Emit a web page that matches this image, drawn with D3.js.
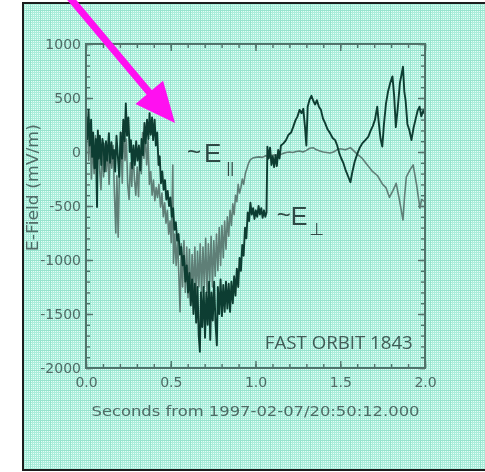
<!DOCTYPE html>
<html lang="en">
<head>
<meta charset="UTF-8">
<title>FAST orbit 1843 E-field</title>
<script src="https://d3js.org/d3.v7.min.js"></script>
<style>
    body { margin: 0; padding: 0; background: #fff; overflow: hidden; }
    svg { display: block; }
    .tick text { font-family: "DejaVu Sans", sans-serif; font-size: 14px; fill: #4f6c66; }
    .tick line { stroke: #4f736a; stroke-width: 1.4px; }
    .domain { display: none; }
</style>
</head>
<body>
<script>
    // axis ticks
    const xMajor = [0, 0.5, 1.0, 1.5, 2.0];
    const yMajor = [-2000, -1500, -1000, -500, 0, 500, 1000];

    // ~E-perp (dark trace): [seconds, mV/m]
    const ePerp = [
        [0.000, 270], [0.008, 120], [0.015, 390], [0.022, 60], [0.030, 300], [0.036, -45], [0.042, 180],
        [0.050, -150], [0.058, 120], [0.065, -510], [0.070, 200], [0.076, -60], [0.082, 150], [0.090, -120],
        [0.097, 120], [0.104, 50], [0.110, -180], [0.118, 100], [0.125, -80], [0.135, 175], [0.142, -100],
        [0.150, 90], [0.158, -60], [0.165, 20], [0.172, -180], [0.180, 150], [0.188, -40], [0.196, -230],
        [0.204, 180], [0.212, -60], [0.220, 300], [0.228, 100], [0.235, 450], [0.242, 150], [0.250, 320],
        [0.258, 0], [0.265, 110], [0.272, -150], [0.280, 60], [0.288, -120], [0.296, 100], [0.304, -80],
        [0.312, 60], [0.320, -170], [0.328, 120], [0.336, -30], [0.345, 270], [0.352, 80], [0.360, 300],
        [0.368, 120], [0.375, 360], [0.382, 160], [0.390, 320], [0.396, 110], [0.405, 300], [0.412, 60],
        [0.420, 180], [0.428, -120], [0.435, -40], [0.442, -290], [0.450, -180], [0.458, -350], [0.466, -260],
        [0.474, -440], [0.482, -360], [0.490, -500], [0.498, -420], [0.506, -600], [0.514, -520], [0.522, -720],
        [0.530, -650], [0.538, -820], [0.546, -760], [0.554, -950], [0.562, -880], [0.570, -1050], [0.578, -960],
        [0.586, -1200], [0.594, -1050], [0.602, -1300], [0.610, -1120], [0.618, -1420], [0.626, -1180],
        [0.634, -1500], [0.642, -1220], [0.650, -1580], [0.658, -1250], [0.665, -1700], [0.672, -1850],
        [0.678, -1300], [0.686, -1620], [0.694, -1250], [0.702, -1720], [0.710, -1300], [0.718, -1600],
        [0.726, -1200], [0.733, -1740], [0.740, -1300], [0.748, -1560], [0.756, -1200], [0.764, -1580],
        [0.772, -1790], [0.778, -1250], [0.786, -1500], [0.794, -1180], [0.802, -1520], [0.810, -1230],
        [0.818, -1480], [0.826, -1200], [0.834, -1450], [0.842, -1220], [0.850, -1480], [0.858, -1200],
        [0.866, -1400], [0.874, -1150], [0.882, -1330], [0.890, -1080], [0.898, -1250], [0.906, -980],
        [0.914, -1100], [0.922, -860], [0.930, -960], [0.938, -700], [0.946, -800], [0.954, -560], [0.962, -640],
        [0.970, -470], [0.978, -580], [0.986, -520], [0.994, -620], [1.002, -540], [1.010, -600], [1.018, -500],
        [1.026, -580], [1.034, -520], [1.042, -610], [1.050, -540], [1.058, -600], [1.065, -560], [1.070, 50],
        [1.078, -60], [1.086, 40], [1.094, -120], [1.102, -40], [1.110, -140], [1.118, -30], [1.126, -130],
        [1.134, 20], [1.142, -60], [1.150, 60], [1.165, 80], [1.180, 110], [1.195, 160], [1.210, 180],
        [1.222, 230], [1.235, 290], [1.248, 330], [1.260, 390], [1.272, 360], [1.282, 400], [1.292, 230],
        [1.300, 60], [1.308, 420], [1.318, 480], [1.330, 520], [1.342, 470], [1.352, 440], [1.362, 480],
        [1.374, 420], [1.386, 390], [1.398, 310], [1.410, 270], [1.425, 210], [1.440, 175], [1.455, 130],
        [1.470, 110], [1.482, 60], [1.494, -10], [1.506, -60], [1.518, -100], [1.530, -160], [1.545, -220],
        [1.560, -280], [1.572, -180], [1.585, -90], [1.600, -20], [1.615, 40], [1.630, 80], [1.648, 110],
        [1.665, 140], [1.680, 200], [1.692, 240], [1.705, 300], [1.718, 420], [1.728, 260], [1.738, 120],
        [1.748, 50], [1.758, 260], [1.770, 450], [1.782, 560], [1.795, 640], [1.808, 700], [1.818, 520],
        [1.828, 230], [1.840, 420], [1.852, 640], [1.862, 720], [1.870, 790], [1.878, 560], [1.886, 470],
        [1.896, 260], [1.908, 200], [1.920, 110], [1.932, 220], [1.944, 300], [1.956, 380], [1.968, 420],
        [1.978, 330], [1.988, 380], [1.996, 360], [2.000, 420]
    ];

    // ~E-parallel (light trace): [seconds, mV/m]
    const ePar = [
        [0.000, 100], [0.008, 320], [0.016, -80], [0.024, 220], [0.032, -250], [0.040, 80], [0.048, -200],
        [0.056, 150], [0.064, -120], [0.072, 100], [0.080, -150], [0.088, -350], [0.096, 20], [0.104, -230],
        [0.112, 80], [0.120, -180], [0.128, 40], [0.136, -300], [0.144, 10], [0.152, -150], [0.160, 60],
        [0.168, -400], [0.176, -750], [0.182, -220], [0.190, -790], [0.198, -120], [0.206, 180], [0.214, -290],
        [0.222, 250], [0.230, -80], [0.238, 120], [0.246, -300], [0.254, -440], [0.262, -100], [0.270, -320],
        [0.278, 20], [0.286, -260], [0.294, -400], [0.302, -140], [0.310, -415], [0.318, 40], [0.326, -200],
        [0.334, 180], [0.342, -60], [0.350, 150], [0.358, -120], [0.366, 110], [0.374, -300], [0.382, -180],
        [0.390, -400], [0.398, -260], [0.406, -450], [0.414, -330], [0.422, -420], [0.430, -300], [0.440, -510],
        [0.448, -380], [0.456, -600], [0.464, -470], [0.472, -660], [0.480, -540], [0.488, -760], [0.496, -640],
        [0.503, -840], [0.508, -500], [0.512, -120], [0.516, -1030], [0.524, -760], [0.532, -1050], [0.540, -800],
        [0.548, -1150], [0.555, -1480], [0.562, -850], [0.570, -1250], [0.578, -820], [0.586, -1300],
        [0.594, -880], [0.602, -1350], [0.610, -900], [0.618, -1400], [0.626, -950], [0.634, -1300],
        [0.642, -880], [0.650, -1350], [0.658, -920], [0.666, -1250], [0.674, -850], [0.682, -1300],
        [0.690, -880], [0.698, -1250], [0.706, -800], [0.714, -1300], [0.722, -850], [0.730, -1200],
        [0.738, -780], [0.746, -1250], [0.754, -820], [0.762, -1150], [0.770, -760], [0.778, -1100],
        [0.786, -700], [0.794, -1050], [0.802, -680], [0.810, -980], [0.818, -640], [0.826, -900], [0.834, -600],
        [0.842, -780], [0.850, -540], [0.858, -680], [0.866, -480], [0.874, -580], [0.882, -400], [0.890, -460],
        [0.898, -300], [0.906, -380], [0.914, -330], [0.922, -250], [0.930, -300], [0.940, -200], [0.950, -150],
        [0.960, -100], [0.970, -70], [0.985, -55], [1.000, -50], [1.020, -45], [1.040, -50], [1.060, -35],
        [1.080, -40], [1.100, -30], [1.120, -25], [1.140, -30], [1.160, -15], [1.180, -5], [1.200, 0],
        [1.220, -5], [1.240, 5], [1.260, 10], [1.280, 0], [1.300, 15], [1.320, 35], [1.340, 40], [1.360, 20],
        [1.380, 10], [1.400, 0], [1.420, -5], [1.440, -10], [1.460, 0], [1.480, 20], [1.500, 30], [1.530, 20],
        [1.560, 40], [1.600, -20], [1.630, -60], [1.660, -120], [1.690, -180], [1.720, -220], [1.750, -300],
        [1.770, -330], [1.790, -420], [1.810, -360], [1.830, -290], [1.850, -450], [1.870, -630], [1.880, -400],
        [1.890, -230], [1.910, -170], [1.930, -120], [1.950, -300], [1.970, -520], [1.980, -440], [2.000, -460]
    ];

    const width = 485, height = 472;
    const margin = { top: 44, right: 60, bottom: 104, left: 86 };

    const svg = d3.select("body").append("svg")
        .attr("width", width)
        .attr("height", height);

    const defs = svg.append("defs");

    // graph paper: fine 2px grid plus slightly darker lines every 10px
    const fine = defs.append("pattern")
        .attr("id", "fine")
        .attr("width", 2).attr("height", 2)
        .attr("patternUnits", "userSpaceOnUse");
    fine.append("rect").attr("width", 2).attr("height", 2).attr("fill", "#a9edda");
    fine.append("rect").attr("x", 1).attr("y", 1).attr("width", 1).attr("height", 1).attr("fill", "#e4fdf6");

    const coarse = defs.append("pattern")
        .attr("id", "coarse")
        .attr("width", 10).attr("height", 10)
        .attr("patternUnits", "userSpaceOnUse");
    coarse.append("path")
        .attr("d", "M0,0.5H10M0.5,0V10")
        .attr("stroke", "#95e3cd")
        .attr("stroke-width", 1)
        .attr("fill", "none");

    defs.append("filter").attr("id", "soft")
        .append("feGaussianBlur").attr("stdDeviation", 0.45);

    svg.append("rect").attr("width", width).attr("height", height).attr("fill", "#fff");
    svg.append("rect").attr("x", 23).attr("y", 3).attr("width", width - 23).attr("height", 467).attr("fill", "url(#fine)");
    svg.append("rect").attr("x", 23).attr("y", 3).attr("width", width - 23).attr("height", 467).attr("fill", "url(#coarse)");
    svg.append("path")
        .attr("d", `M${width},3H23V470H${width}`)
        .attr("fill", "none")
        .attr("stroke", "#1d1d1d")
        .attr("stroke-width", 2);

    const x = d3.scaleLinear().domain([0, 2]).range([margin.left, width - margin.right]);
    const y = d3.scaleLinear().domain([-2000, 1000]).range([height - margin.bottom, margin.top]);

    const g = svg.append("g").attr("filter", "url(#soft)");

    // minor ticks
    const xMinor = d3.range(0, 2.001, 0.1);
    const yMinor = d3.range(-2000, 1001, 100);

    g.append("g").attr("transform", `translate(0,${y.range()[0]})`)
        .call(d3.axisBottom(x).tickValues(xMinor).tickSizeInner(-4).tickSizeOuter(0).tickFormat(""));
    g.append("g").attr("transform", `translate(0,${y.range()[1]})`)
        .call(d3.axisTop(x).tickValues(xMinor).tickSizeInner(-4).tickSizeOuter(0).tickFormat(""));
    g.append("g").attr("transform", `translate(${x.range()[0]},0)`)
        .call(d3.axisLeft(y).tickValues(yMinor).tickSizeInner(-4).tickSizeOuter(0).tickFormat(""));
    g.append("g").attr("transform", `translate(${x.range()[1]},0)`)
        .call(d3.axisRight(y).tickValues(yMinor).tickSizeInner(-4).tickSizeOuter(0).tickFormat(""));

    // major ticks + labels
    g.append("g").attr("transform", `translate(0,${y.range()[0]})`)
        .call(d3.axisBottom(x).tickValues(xMajor).tickSizeInner(-7).tickSizeOuter(0)
            .tickPadding(9).tickFormat(d3.format(".1f")));
    g.append("g").attr("transform", `translate(0,${y.range()[1]})`)
        .call(d3.axisTop(x).tickValues(xMajor).tickSizeInner(-7).tickSizeOuter(0).tickFormat(""));
    g.append("g").attr("transform", `translate(${x.range()[0]},0)`)
        .call(d3.axisLeft(y).tickValues(yMajor).tickSizeInner(-7).tickSizeOuter(0).tickPadding(5)
            .tickFormat(d => String(d)));
    g.append("g").attr("transform", `translate(${x.range()[1]},0)`)
        .call(d3.axisRight(y).tickValues(yMajor).tickSizeInner(-7).tickSizeOuter(0).tickFormat(""));

    // traces
    const line = d3.line().x(d => x(d[0])).y(d => y(d[1]));

    g.append("path").datum(ePar)
        .attr("d", line)
        .attr("fill", "none")
        .attr("stroke", "#5f7f77")
        .attr("stroke-width", 1.6)
        .attr("stroke-linejoin", "round");

    g.append("path").datum(ePerp)
        .attr("d", line)
        .attr("fill", "none")
        .attr("stroke", "#103d31")
        .attr("stroke-width", 1.9)
        .attr("stroke-linejoin", "round");

    // plot frame
    g.append("rect")
        .attr("x", x.range()[0]).attr("y", y.range()[1])
        .attr("width", x.range()[1] - x.range()[0])
        .attr("height", y.range()[0] - y.range()[1])
        .attr("fill", "none")
        .attr("stroke", "#4f736a")
        .attr("stroke-width", 2);

    // axis titles
    g.append("text")
        .attr("x", (x.range()[0] + x.range()[1]) / 2)
        .attr("y", 416)
        .attr("text-anchor", "middle")
        .attr("textLength", 328)
        .attr("lengthAdjust", "spacingAndGlyphs")
        .style("font-family", "DejaVu Sans, sans-serif")
        .style("font-size", "14px")
        .style("fill", "#4f6c66")
        .text("Seconds from 1997-02-07/20:50:12.000");

    g.append("text")
        .attr("transform", `translate(38,${y(-330)}) rotate(-90)`)
        .attr("text-anchor", "middle")
        .attr("textLength", 127)
        .attr("lengthAdjust", "spacingAndGlyphs")
        .style("font-family", "DejaVu Sans, sans-serif")
        .style("font-size", "15px")
        .style("fill", "#4f6c66")
        .text("E-Field (mV/m)");

    // annotations
    const labPar = g.append("text")
        .attr("x", x(0.596)).attr("y", y(-93))
        .style("font-family", "Liberation Sans, sans-serif")
        .style("fill", "#2f4a44");
    labPar.append("tspan").style("font-size", "24px").attr("dy", -2).text("~");
    labPar.append("tspan").attr("dx", 3).attr("dy", 2).style("font-size", "26px").text("E");
    labPar.append("tspan").attr("dx", 5).attr("dy", 11).style("font-size", "15px").text("||");

    const labPerp = g.append("text")
        .attr("x", x(1.125)).attr("y", y(-680))
        .style("font-family", "Liberation Sans, sans-serif")
        .style("fill", "#2f4a44");
    labPerp.append("tspan").style("font-size", "24px").attr("dy", -2).text("~");
    labPerp.append("tspan").attr("dx", 0).attr("dy", 2).style("font-size", "25px").text("E");
    labPerp.append("tspan").attr("dx", 2).attr("dy", 10)
        .style("font-family", "DejaVu Sans, sans-serif").style("font-size", "17px").text("⊥");

    g.append("text")
        .attr("x", x(1.055)).attr("y", y(-1820))
        .attr("textLength", 148)
        .attr("lengthAdjust", "spacingAndGlyphs")
        .style("font-family", "Open Sans, sans-serif")
        .style("font-size", "19px")
        .style("fill", "#3f5c56")
        .text("FAST ORBIT 1843");

    // magenta arrow
    const arrowFrom = [-0.08, 1400], arrowTo = [0.525, 268];
    const p0 = [x(arrowFrom[0]), y(arrowFrom[1])], p1 = [x(arrowTo[0]), y(arrowTo[1])];
    const len = Math.hypot(p1[0] - p0[0], p1[1] - p0[1]);
    const ux = (p1[0] - p0[0]) / len, uy = (p1[1] - p0[1]) / len;
    const headLen = 40, headHalf = 18;
    const bx = p1[0] - ux * headLen, by = p1[1] - uy * headLen;

    svg.append("line")
        .attr("x1", p0[0] - ux * 10).attr("y1", p0[1] - uy * 10)
        .attr("x2", bx + ux * 6).attr("y2", by + uy * 6)
        .attr("stroke", "#ff10f0")
        .attr("stroke-width", 7);
    svg.append("path")
        .attr("d", `M${p1[0]},${p1[1]}L${bx - uy * headHalf},${by + ux * headHalf}L${bx + uy * headHalf},${by - ux * headHalf}Z`)
        .attr("fill", "#ff10f0");
</script>
</body>
</html>
